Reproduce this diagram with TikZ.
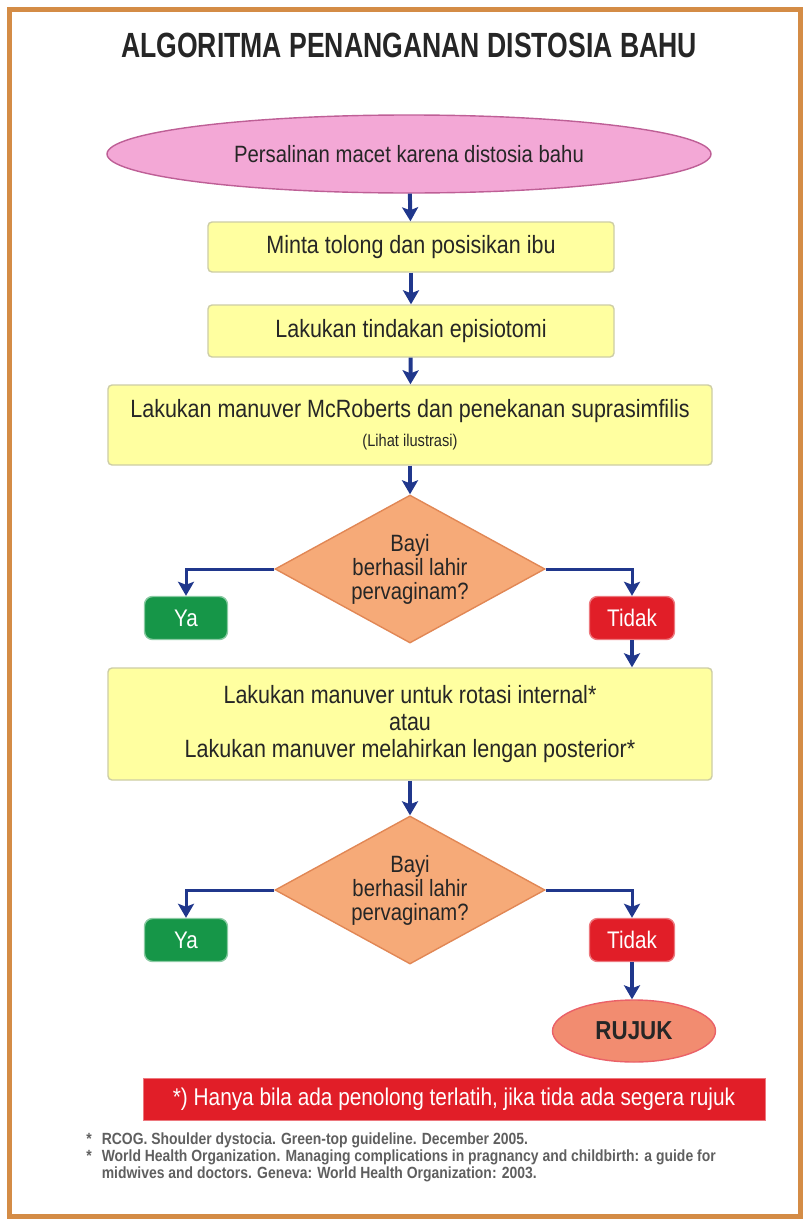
\documentclass[tikz,border=0pt]{standalone}
\usepackage{fontspec}
\setmainfont{Liberation Sans}[FakeStretch=0.86]
\newfontfamily\titlefont{Liberation Sans}[FakeStretch=0.76]
\usepackage{tikz}
\usetikzlibrary{shapes, calc, arrows.meta}
\usepackage{xcolor}

\definecolor{framebrown}{RGB}{212,140,70}
\definecolor{pinkfill}{RGB}{243,168,214}
\definecolor{pinkline}{RGB}{190,95,150}
\definecolor{boxfill}{RGB}{255,255,160}
\definecolor{boxline}{RGB}{205,205,165}
\definecolor{diafill}{RGB}{246,170,120}
\definecolor{dialine}{RGB}{225,135,85}
\definecolor{yagreen}{RGB}{22,150,72}
\definecolor{tidakred}{RGB}{225,30,40}
\definecolor{rujukfill}{RGB}{242,140,112}
\definecolor{arrowblue}{RGB}{32,55,140}
\definecolor{notegray}{RGB}{95,95,95}

\tikzset{
  flowbox/.style={draw=boxline, fill=boxfill, line width=0.7pt, rounded corners=2pt,
    minimum width=203pt, minimum height=25pt, align=center, text=black!85,
    font=\fontsize{12.5}{13.5}\selectfont},
  startell/.style={ellipse, draw=pinkline, fill=pinkfill, line width=0.7pt,
    minimum width=302pt, minimum height=39pt, inner sep=0pt, text=black!85,
    font=\fontsize{11.8}{13}\selectfont},
  askdia/.style={diamond, draw=dialine, fill=diafill, line width=0.7pt, aspect=1.8,
    minimum width=135pt, minimum height=74pt, inner sep=0pt, align=center,
    text=black!85, font=\fontsize{11.8}{12}\selectfont},
  yabox/.style={draw=yagreen!50, fill=yagreen, line width=0.7pt, rounded corners=4pt,
    minimum width=41.5pt, minimum height=21.5pt, text=white,
    font=\fontsize{12}{13}\selectfont},
  tidakbox/.style={yabox, draw=tidakred!60, fill=tidakred, minimum width=42.5pt},
  link/.style={draw=arrowblue, line width=2pt,
    -{Stealth[length=7pt, width=8pt, inset=1.5pt]}},
  sidelink/.style={link, line width=1.5pt}
}

\begin{document}
\begin{tikzpicture}[x=0.5pt, y=-0.5pt]
    \useasboundingbox (0,0) rectangle (809,1226);
    \draw[framebrown, line width=2.5pt] (9,9) rectangle (800,1216);

    \node[font=\titlefont\bfseries\fontsize{17.5}{19}\selectfont, text=black!85]
        (title) at (409,45) {ALGORITMA PENANGANAN DISTOSIA BAHU};

    % langkah awal
    \node[startell] (start) at (409,154) {Persalinan macet karena distosia bahu};
    \node[flowbox] (tolong) at (411,247) {Minta tolong dan posisikan ibu};
    \node[flowbox, minimum height=26pt] (episio) at (411,331) {Lakukan tindakan episiotomi};
    \node[flowbox, minimum width=302pt, minimum height=40pt] (mcr) at (410,425)
        {Lakukan manuver McRoberts dan penekanan suprasimfilis\\[1pt]
         {\fontsize{8.5}{10}\selectfont (Lihat ilustrasi)}};

    % keputusan pertama
    \node[askdia] (q1) at (410,569) {Bayi\\berhasil lahir\\pervaginam?};
    \node[yabox] (ya1) at (186,618) {Ya};
    \node[tidakbox] (tidak1) at (632,618) {Tidak};

    \node[flowbox, minimum width=302pt, minimum height=56pt] (rotasi) at (410,724)
        {Lakukan manuver untuk rotasi internal*\\atau\\
         Lakukan manuver melahirkan lengan posterior*};

    % keputusan kedua
    \node[askdia] (q2) at (410,890) {Bayi\\berhasil lahir\\pervaginam?};
    \node[yabox] (ya2) at (186,940) {Ya};
    \node[tidakbox] (tidak2) at (632,940) {Tidak};

    \node[ellipse, draw=tidakred!70, fill=rujukfill, line width=0.7pt,
          minimum width=81.5pt, minimum height=31pt, inner sep=0pt,
          text=black!85, font=\bfseries\fontsize{13}{15}\selectfont]
        (rujuk) at (634,1031) {RUJUK};

    \node[draw=tidakred!60, fill=tidakred, minimum width=311pt, minimum height=21pt,
          inner sep=0pt, text=white, font=\fontsize{12.1}{14}\selectfont]
        (note) at (454,1099) {*) Hanya bila ada penolong terlatih, jika tida ada segera rujuk};

    \node[anchor=north west, inner sep=0pt, text=notegray, align=left,
          font=\bfseries\fontsize{8.1}{8.6}\selectfont] (refs) at (86,1132)
        {\begin{tabular}{@{}l@{\hspace{5pt}}l@{}}
          {*} & RCOG. Shoulder dystocia. Green-top guideline. December 2005.\\
          {*} & World Health Organization. Managing complications in pragnancy and childbirth: a guide for\\
            & midwives and doctors. Geneva: World Health Organization: 2003.
         \end{tabular}};

    % panah
    \draw[link] (start) -- (tolong);
    \draw[link] (tolong) -- (episio);
    \draw[link] (episio) -- (mcr);
    \draw[link] (mcr) -- (q1);
    \draw[sidelink] (q1.west) -| (ya1.north);
    \draw[sidelink] (q1.east) -| (tidak1.north);
    \draw[link] (tidak1.south) -- (tidak1.south |- rotasi.north);
    \draw[link] (rotasi) -- (q2);
    \draw[sidelink] (q2.west) -| (ya2.north);
    \draw[sidelink] (q2.east) -| (tidak2.north);
    \draw[link] (tidak2.south) -- (tidak2.south |- rujuk.north);
\end{tikzpicture}
\end{document}
